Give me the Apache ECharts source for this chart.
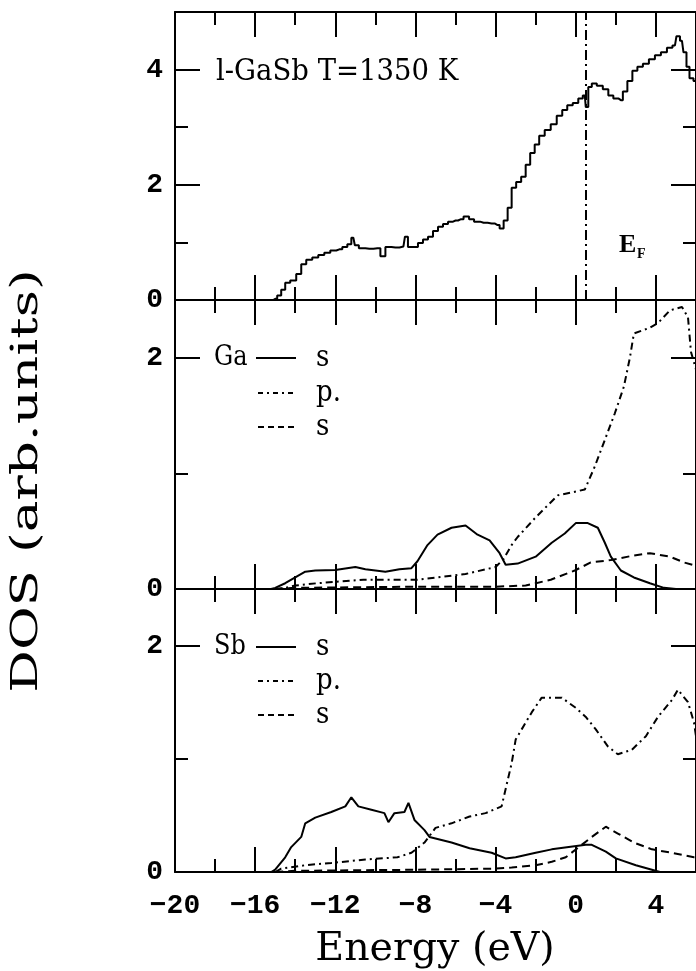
<!DOCTYPE html>
<html>
<head>
<meta charset="utf-8">
<script src="https://cdn.jsdelivr.net/npm/echarts@6/dist/echarts.min.js"></script>
<style>
  html, body { margin: 0; padding: 0; background: #fff; }
  #chart { width: 696px; height: 971px; }
</style>
</head>
<body>
<div id="chart"></div>
<script>
// Total density of states of liquid GaSb, [energy (eV), DOS]
const totalDos = [
  [-15.2, 0], [-15.0, 0.02], [-14.8, 0.08], [-14.6, 0.18], [-14.4, 0.30], [-14.1, 0.34], [-13.8, 0.45],
  [-13.6, 0.62], [-13.3, 0.70], [-13.0, 0.74], [-12.7, 0.78], [-12.4, 0.82], [-12.1, 0.86],
  [-11.8, 0.88], [-11.5, 0.92], [-11.3, 0.97], [-11.1, 1.08], [-10.95, 0.95], [-10.7, 0.90],
  [-10.3, 0.89], [-9.9, 0.90], [-9.6, 0.76], [-9.4, 0.92], [-9.0, 0.91], [-8.6, 0.93],
  [-8.45, 1.10], [-8.3, 0.92], [-8.0, 0.92], [-7.75, 0.99], [-7.5, 1.05], [-7.25, 1.10],
  [-7.0, 1.20], [-6.75, 1.27], [-6.5, 1.32], [-6.25, 1.36], [-6.0, 1.38], [-5.75, 1.40],
  [-5.45, 1.45], [-5.2, 1.40], [-4.95, 1.36], [-4.6, 1.34], [-4.2, 1.33], [-3.9, 1.30],
  [-3.7, 1.24], [-3.5, 1.38], [-3.3, 1.60], [-3.1, 1.95], [-2.85, 2.05], [-2.6, 2.14],
  [-2.4, 2.35], [-2.15, 2.55], [-1.95, 2.70], [-1.7, 2.85], [-1.4, 2.95], [-1.1, 3.05],
  [-0.8, 3.20], [-0.55, 3.30], [-0.3, 3.38], [0.0, 3.42], [0.25, 3.50], [0.45, 3.55],
  [0.55, 3.35], [0.7, 3.70], [0.9, 3.76], [1.2, 3.72], [1.5, 3.66], [1.75, 3.55],
  [2.0, 3.50], [2.25, 3.47], [2.45, 3.62], [2.7, 3.80], [2.95, 3.98], [3.2, 4.05],
  [3.5, 4.10], [3.8, 4.18], [4.1, 4.25], [4.4, 4.30], [4.7, 4.38], [4.95, 4.42],
  [5.1, 4.58], [5.3, 4.50], [5.45, 4.30], [5.6, 4.05], [5.75, 3.85], [6.0, 3.80]
];

// Ga partial DOS: s, p and third component
const gaS = [
  [-15.2, 0], [-15.0, 0.01], [-14.5, 0.05], [-14.0, 0.10], [-13.5, 0.15], [-13.0, 0.16],
  [-12.0, 0.165], [-11.0, 0.19], [-10.5, 0.17], [-9.5, 0.15], [-8.8, 0.17], [-8.2, 0.18],
  [-7.9, 0.24], [-7.4, 0.38], [-6.9, 0.47], [-6.2, 0.53], [-5.5, 0.55], [-4.9, 0.47],
  [-4.3, 0.42], [-3.8, 0.31], [-3.5, 0.21], [-2.9, 0.22], [-2.0, 0.28], [-1.2, 0.40],
  [-0.55, 0.48], [0.0, 0.57], [0.6, 0.57], [1.1, 0.53], [1.45, 0.40], [1.75, 0.28],
  [2.25, 0.16], [2.9, 0.10], [3.7, 0.05], [4.4, 0.01], [5.0, 0], [6.0, 0]
];
const gaP = [
  [-15.0, 0], [-14.5, 0.01], [-14.0, 0.03], [-12.9, 0.05], [-10.6, 0.08], [-7.9, 0.08],
  [-5.5, 0.13], [-4.0, 0.19], [-3.6, 0.26], [-3.2, 0.38], [-2.9, 0.45], [-2.0, 0.62],
  [-0.9, 0.81], [0.45, 0.86], [0.95, 1.06], [1.45, 1.29], [1.95, 1.52], [2.4, 1.75],
  [2.7, 2.0], [2.9, 2.21], [3.7, 2.26], [4.1, 2.30], [4.7, 2.41], [5.3, 2.44],
  [5.6, 2.35], [5.75, 2.05], [6.0, 1.9]
];
const gaD = [
  [-15.0, 0], [-14.0, 0.01], [-8.0, 0.02], [-4.0, 0.02], [-2.5, 0.03], [-1.25, 0.08],
  [-0.05, 0.16], [0.75, 0.23], [1.75, 0.25], [2.9, 0.29], [3.7, 0.31], [4.7, 0.28],
  [5.4, 0.23], [6.0, 0.20]
];

// Sb partial DOS: s, p and third component
const sbS = [
  [-15.2, 0], [-15.0, 0.02], [-14.5, 0.13], [-14.2, 0.22], [-13.7, 0.31], [-13.5, 0.43],
  [-13.0, 0.48], [-12.2, 0.53], [-11.5, 0.58], [-11.2, 0.66], [-10.85, 0.58], [-10.2, 0.55],
  [-9.55, 0.52], [-9.35, 0.44], [-9.05, 0.52], [-8.55, 0.53], [-8.35, 0.61], [-8.05, 0.46],
  [-7.55, 0.37], [-7.3, 0.31], [-6.2, 0.26], [-5.3, 0.21], [-4.2, 0.17], [-3.5, 0.12],
  [-3.0, 0.13], [-2.0, 0.17], [-1.2, 0.20], [-0.35, 0.22], [0.5, 0.24], [0.8, 0.24],
  [1.5, 0.18], [2.0, 0.12], [3.0, 0.06], [3.8, 0.02], [4.2, 0], [6.0, 0]
];
const sbP = [
  [-15.0, 0], [-14.7, 0.03], [-13.5, 0.06], [-12.2, 0.08], [-10.5, 0.11], [-8.9, 0.13],
  [-8.2, 0.17], [-7.55, 0.26], [-7.0, 0.39], [-6.2, 0.43], [-5.3, 0.49], [-4.5, 0.52],
  [-3.7, 0.58], [-3.4, 0.81], [-3.2, 0.96], [-3.0, 1.17], [-2.7, 1.26], [-2.2, 1.41],
  [-1.7, 1.54], [-0.7, 1.54], [0.0, 1.45], [0.5, 1.37], [1.0, 1.26], [1.6, 1.11],
  [2.1, 1.04], [2.8, 1.08], [3.5, 1.20], [4.1, 1.37], [4.8, 1.52], [5.1, 1.61],
  [5.6, 1.50], [5.9, 1.32], [6.0, 1.2]
];
const sbD = [
  [-15.0, 0], [-14.0, 0.01], [-8.0, 0.02], [-4.0, 0.03], [-3.2, 0.04], [-2.0, 0.06],
  [-1.2, 0.09], [-0.5, 0.13], [0.15, 0.22], [0.8, 0.31], [1.5, 0.40], [2.1, 0.34],
  [2.9, 0.26], [3.8, 0.20], [4.8, 0.17], [5.9, 0.13], [6.0, 0.13]
];

const fermiLevel = 0.5;
const energyMin = -20, energyMax = 6, energyStep = 4;
const panelMax = [5, 2.5, 2.5];
const orbitalLabels = ['s', 'p.', 's'];
const panelTitle = 'l-GaSb T=1350 K';

const MONO = '"Liberation Mono", "Courier New", monospace';
const SERIF = '"DejaVu Serif", serif';
const INK = '#000';

const grids = [
  { left: 175, width: 524, top: 12, height: 288 },
  { left: 175, width: 524, top: 300, height: 289 },
  { left: 175, width: 524, top: 589, height: 283 }
];

const lineW = 2;
const tickStyle = { color: INK, width: lineW };

function xAxisFor(gridIndex, position, withLabels) {
  return {
    type: 'value', gridIndex, position,
    min: energyMin, max: energyMax, interval: energyStep,
    axisLine: { show: true, onZero: false, lineStyle: tickStyle },
    axisTick: { show: true, inside: true, length: 25, lineStyle: tickStyle },
    minorTick: { show: true, splitNumber: 2, length: 13, lineStyle: tickStyle },
    splitLine: { show: false }, minorSplitLine: { show: false },
    axisLabel: {
      show: withLabels, showMaxLabel: false, margin: 20,
      color: INK, fontFamily: MONO, fontWeight: 'bold', fontSize: 28,
      formatter: v => String(v).replace('-', '\u2212')
    }
  };
}

function yAxisFor(gridIndex, position, max, withLabels) {
  return {
    type: 'value', gridIndex, position,
    min: 0, max, interval: 2,
    axisLine: { show: true, onZero: false, lineStyle: tickStyle },
    axisTick: { show: true, inside: true, length: 25, lineStyle: tickStyle },
    minorTick: { show: true, splitNumber: 2, length: 13, lineStyle: tickStyle },
    splitLine: { show: false }, minorSplitLine: { show: false },
    axisLabel: {
      show: withLabels, showMaxLabel: false, margin: 12,
      color: INK, fontFamily: MONO, fontWeight: 'bold', fontSize: 28
    }
  };
}

const xAxes = [], yAxes = [];
grids.forEach((g, i) => {
  xAxes.push(xAxisFor(i, 'bottom', i === 2));
  xAxes.push(xAxisFor(i, 'top', false));
  yAxes.push(yAxisFor(i, 'left', panelMax[i], true));
  yAxes.push(yAxisFor(i, 'right', panelMax[i], false));
});

const solid = { color: INK, width: lineW, type: 'solid' };
const dashDot = { color: INK, width: lineW, type: [7, 4, 2, 4] };
const dashed = { color: INK, width: lineW, type: [8, 5] };

function curve(data, panel, lineStyle, extra) {
  return Object.assign({
    type: 'line', data, xAxisIndex: panel * 2, yAxisIndex: panel * 2,
    showSymbol: false, symbol: 'none', silent: true, lineStyle,
    animation: false, z: 3
  }, extra || {});
}

const series = [
  curve(totalDos, 0, solid, {
    step: 'middle',
    markLine: {
      silent: true, symbol: 'none', label: { show: false },
      lineStyle: { color: INK, width: lineW, type: [10, 4, 2, 4] },
      data: [{ xAxis: fermiLevel }]
    }
  }),
  curve(gaS, 1, solid),
  curve(gaP, 1, dashDot),
  curve(gaD, 1, dashed),
  curve(sbS, 2, solid),
  curve(sbP, 2, dashDot),
  curve(sbD, 2, dashed)
];

function txt(x, y, text, opts) {
  const o = opts || {};
  return {
    type: 'text', x, y, rotation: o.rotation || 0,
    scaleX: o.scaleX || 1, scaleY: o.scaleY || 1, silent: true, z: 10,
    style: {
      text, x: 0, y: 0, fill: INK,
      font: (o.weight || 'normal') + ' ' + (o.size || 26) + 'px ' + (o.family || SERIF),
      align: o.align || 'left', textAlign: o.align || 'left',
      verticalAlign: 'middle', textVerticalAlign: 'middle'
    }
  };
}
function seg(x1, x2, y, dash) {
  return {
    type: 'line', silent: true, z: 10,
    shape: { x1, y1: y, x2, y2: y },
    style: { stroke: INK, lineWidth: lineW, lineDash: dash || null }
  };
}

function legendBlock(element, rowY) {
  return [
    txt(214, rowY[0], element, { size: 24, scaleY: 1.15 }),
    seg(256, 296, rowY[0]),
    txt(316, rowY[0], orbitalLabels[0], { size: 26, scaleY: 1.15 }),
    seg(258, 296, rowY[1], [5, 4, 2, 4]),
    txt(316, rowY[1], orbitalLabels[1], { size: 26, scaleY: 1.15 }),
    seg(258, 296, rowY[2], [6, 4]),
    txt(316, rowY[2], orbitalLabels[2], { size: 26, scaleY: 1.15 })
  ];
}

const graphic = [
  txt(216, 72, panelTitle, { size: 27.5, scaleY: 1.1 }),
  txt(619, 245, 'E', { size: 26, weight: 'bold', family: '"Liberation Serif", serif' }),
  txt(637, 254, 'F', { size: 14, weight: 'bold', family: '"Liberation Serif", serif' }),
  ...legendBlock('Ga', [358, 393, 427]),
  ...legendBlock('Sb', [647, 681, 715]),
  txt(435, 950, 'Energy (eV)', { size: 39.5, align: 'center' }),
  txt(27, 481, 'DOS (arb.units)', { size: 38, align: 'center', rotation: Math.PI / 2, scaleX: 1.4 })
];

const chart = echarts.init(document.getElementById('chart'), null, { renderer: 'canvas' });
chart.setOption({
  backgroundColor: '#fff',
  animation: false,
  grid: grids,
  xAxis: xAxes,
  yAxis: yAxes,
  series,
  graphic
});
</script>
</body>
</html>
